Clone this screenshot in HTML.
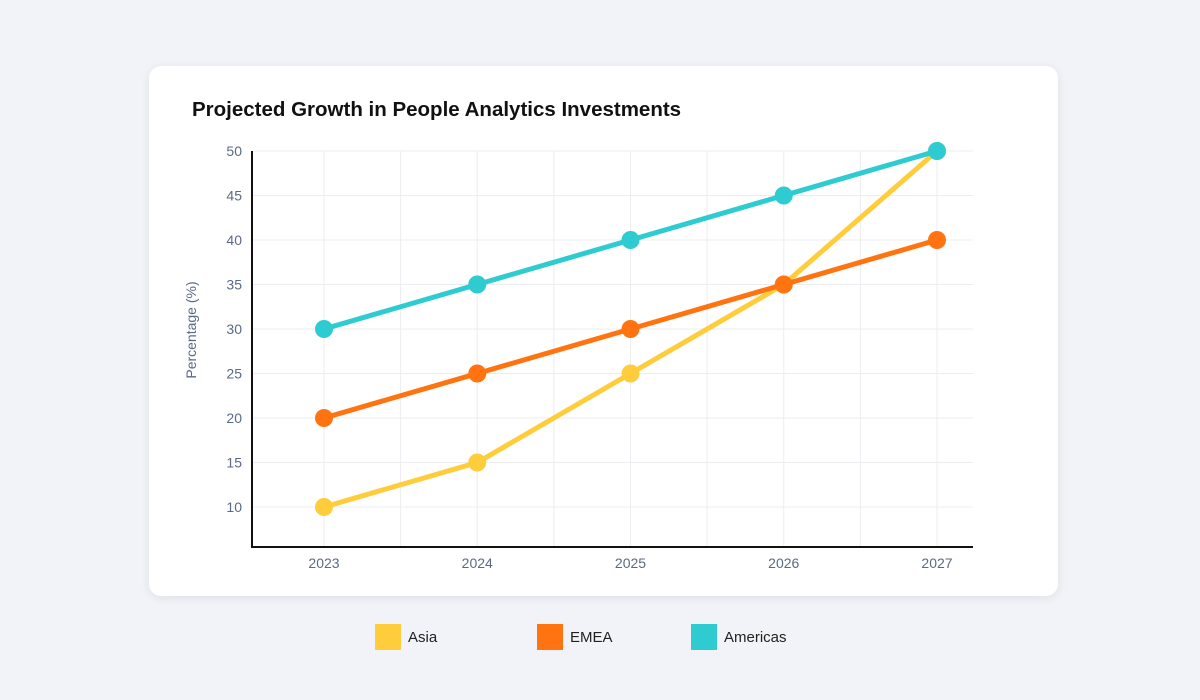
<!DOCTYPE html>
<html><head><meta charset="utf-8"><style>
body{margin:0;width:1200px;height:700px;background:#f1f3f8;font-family:"Liberation Sans",sans-serif;overflow:hidden;position:relative}
.card{position:absolute;left:149px;top:66px;width:909px;height:530px;background:#fff;border-radius:12px;box-shadow:0 2px 10px rgba(0,0,0,0.08)}
.title{position:absolute;left:192px;top:98px;font-size:20.5px;font-weight:bold;color:#111}
.leg{position:absolute;top:624px;height:26px;display:flex;align-items:center;font-size:15px;color:#222}
.leg span.sw{width:26px;height:26px;display:inline-block;margin-right:7px}
</style></head><body>
<div class="card"></div>
<div class="title">Projected Growth in People Analytics Investments</div>
<svg id="chart" width="1200" height="700" style="position:absolute;left:0;top:0"></svg>
<div class="leg" style="left:375px"><span class="sw" style="background:#ffcd3c"></span>Asia</div>
<div class="leg" style="left:537px"><span class="sw" style="background:#ff7410"></span>EMEA</div>
<div class="leg" style="left:691px"><span class="sw" style="background:#2ecbd1"></span>Americas</div>
<script>
const categories=["2023","2024","2025","2026","2027"];
const asia=[10,15,25,35,50];
const emea=[20,25,30,35,40];
const americas=[30,35,40,45,50];
const yTicks=[10,15,20,25,30,35,40,45,50];
const NS="http://www.w3.org/2000/svg";
const svg=document.getElementById("chart");
const x=i=>324+i*153.25;
const y=v=>151+(50-v)*8.9;
function mk(t,a){const e=document.createElementNS(NS,t);for(const k in a)e.setAttribute(k,a[k]);svg.appendChild(e);return e;}
yTicks.forEach(v=>{
 const l=mk("line",{x1:252,x2:973,y1:y(v),y2:y(v),stroke:"#ebedf0","stroke-width":1});
 
 
 const t=mk("text",{x:242,y:y(v)+5,"text-anchor":"end","font-size":14,fill:"#5a6a85"});t.textContent=v;
 
 
});
for(let i=0;i<categories.length*2-1;i++){
 const gx=x(0)+i*76.625;
 const l=mk("line",{x1:gx,x2:gx,y1:151,y2:547,stroke:"#ebedf0","stroke-width":1});
 
 
}
categories.forEach((c,i)=>{
 const t=mk("text",{x:x(i),y:568,"text-anchor":"middle","font-size":14,fill:"#5a6a85"});t.textContent=c;
 
 
});
const ax=mk("path",{d:"M252 151V547H973",stroke:"#111","stroke-width":2,fill:"none"});


const yl=mk("text",{x:0,y:0,transform:"translate(196,330) rotate(-90)","text-anchor":"middle","font-size":14,fill:"#5a6a85"});yl.textContent="Percentage (%)";


[[asia,"#ffcd3c","asia"],[emea,"#ff7410","emea"],[americas,"#2ecbd1","americas"]].forEach(([d,c,n])=>{
 const p=mk("polyline",{points:d.map((v,i)=>x(i)+","+y(v)).join(" "),stroke:c,"stroke-width":5,fill:"none"});
 
 
 d.forEach((v,i)=>{
  const ci=mk("circle",{cx:x(i),cy:y(v),r:9,fill:c});
  
  
 });
});
</script>
</body></html>
